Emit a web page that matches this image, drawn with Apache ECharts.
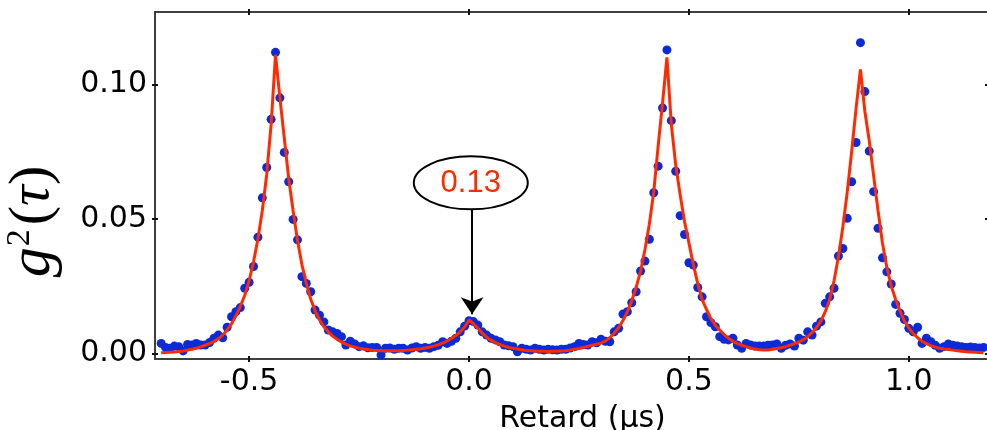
<!DOCTYPE html>
<html><head><meta charset="utf-8">
<script src="https://cdn.jsdelivr.net/npm/echarts@6/dist/echarts.min.js"></script>
<style>html,body{margin:0;padding:0;background:#fff}#c{width:987px;height:430px}</style>
</head><body><div id="c"></div>
<script>
const delays = [
-0.70,-0.69,-0.68,-0.67,-0.66,-0.65,-0.64,-0.63,-0.62,-0.61,
-0.60,-0.59,-0.58,-0.57,-0.56,-0.55,-0.54,-0.53,-0.52,-0.51,
-0.50,-0.49,-0.48,-0.47,-0.46,-0.45,-0.44,-0.43,-0.42,-0.41,
-0.40,-0.39,-0.38,-0.37,-0.36,-0.35,-0.34,-0.33,-0.32,-0.31,
-0.30,-0.29,-0.28,-0.27,-0.26,-0.25,-0.24,-0.23,-0.22,-0.21,
-0.20,-0.19,-0.18,-0.17,-0.16,-0.15,-0.14,-0.13,-0.12,-0.11,
-0.10,-0.09,-0.08,-0.07,-0.06,-0.05,-0.04,-0.03,-0.02,-0.01,
0.00,0.01,0.02,0.03,0.04,0.05,0.06,0.07,0.08,0.09,
0.10,0.11,0.12,0.13,0.14,0.15,0.16,0.17,0.18,0.19,
0.20,0.21,0.22,0.23,0.24,0.25,0.26,0.27,0.28,0.29,
0.30,0.31,0.32,0.33,0.34,0.35,0.36,0.37,0.38,0.39,
0.40,0.41,0.42,0.43,0.44,0.45,0.46,0.47,0.48,0.49,
0.50,0.51,0.52,0.53,0.54,0.55,0.56,0.57,0.58,0.59,
0.60,0.61,0.62,0.63,0.64,0.65,0.66,0.67,0.68,0.69,
0.70,0.71,0.72,0.73,0.74,0.75,0.76,0.77,0.78,0.79,
0.80,0.81,0.82,0.83,0.84,0.85,0.86,0.87,0.88,0.89,
0.90,0.91,0.92,0.93,0.94,0.95,0.96,0.97,0.98,0.99,
1.00,1.01,1.02,1.03,1.04,1.05,1.06,1.07,1.08,1.09,
1.10,1.11,1.12,1.13,1.14,1.15,1.16,1.17
];
const g2Measured = [
0.0037,0.0022,0.0019,0.0027,0.0025,0.0009,0.0033,0.0031,0.0037,0.0031,
0.0031,0.0040,0.0056,0.0068,0.0058,0.0097,0.0136,0.0155,0.0170,0.0242,
0.0264,0.0323,0.0432,0.0578,0.0691,0.0870,0.1119,0.0950,0.0747,0.0638,
0.0498,0.0422,0.0285,0.0260,0.0229,0.0161,0.0142,0.0117,0.0087,0.0080,
0.0074,0.0062,0.0031,0.0045,0.0035,0.0025,0.0028,0.0021,0.0022,0.0022,
-0.0006,0.0019,0.0020,0.0015,0.0019,0.0019,0.0012,0.0020,0.0025,0.0019,
0.0022,0.0019,0.0025,0.0030,0.0043,0.0037,0.0045,0.0056,0.0080,0.0101,
0.0121,0.0118,0.0105,0.0080,0.0068,0.0056,0.0050,0.0043,0.0031,0.0028,
0.0025,0.0006,0.0019,0.0015,0.0012,0.0019,0.0015,0.0012,0.0015,0.0013,
0.0012,0.0015,0.0015,0.0020,0.0025,0.0037,0.0033,0.0031,0.0043,0.0039,
0.0052,0.0045,0.0043,0.0080,0.0093,0.0146,0.0155,0.0188,0.0229,0.0306,
0.0343,0.0424,0.0597,0.0696,0.0912,0.1128,0.0865,0.0677,0.0512,0.0442,
0.0337,0.0328,0.0245,0.0210,0.0136,0.0114,0.0099,0.0062,0.0052,0.0050,
0.0056,0.0031,0.0019,0.0037,0.0031,0.0027,0.0027,0.0027,0.0030,0.0031,
0.0035,0.0019,0.0030,0.0035,0.0027,0.0056,0.0049,0.0080,0.0068,0.0101,
0.0117,0.0186,0.0210,0.0242,0.0362,0.0390,0.0502,0.0638,0.0784,0.1155,
0.0973,0.0752,0.0601,0.0465,0.0355,0.0303,0.0258,0.0182,0.0149,0.0126,
0.0093,0.0080,0.0097,0.0037,0.0056,0.0043,0.0030,0.0019,0.0025,0.0035,
0.0030,0.0027,0.0025,0.0022,0.0024,0.0022,0.0020,0.0022
];
const g2Fit = [
0.0002,0.0003,0.0004,0.0005,0.0007,0.0009,0.0012,0.0015,0.0019,0.0024,
0.0030,0.0036,0.0044,0.0054,0.0068,0.0087,0.0110,0.0140,0.0175,0.0215,
0.0270,0.0340,0.0425,0.0530,0.0665,0.0850,0.1110,0.0950,0.0800,0.0650,
0.0530,0.0420,0.0330,0.0260,0.0202,0.0158,0.0125,0.0099,0.0080,0.0064,
0.0052,0.0042,0.0034,0.0028,0.0023,0.0019,0.0016,0.0014,0.0012,0.0011,
0.0010,0.0010,0.0010,0.0010,0.0010,0.0011,0.0012,0.0013,0.0015,0.0017,
0.0020,0.0023,0.0027,0.0032,0.0038,0.0046,0.0055,0.0066,0.0080,0.0098,
0.0124,0.0110,0.0094,0.0075,0.0060,0.0049,0.0040,0.0033,0.0027,0.0022,
0.0019,0.0016,0.0013,0.0011,0.0010,0.0009,0.0008,0.0008,0.0007,0.0008,
0.0008,0.0009,0.0010,0.0012,0.0015,0.0018,0.0022,0.0026,0.0030,0.0034,
0.0038,0.0046,0.0058,0.0075,0.0095,0.0122,0.0155,0.0195,0.0245,0.0305,
0.0385,0.0480,0.0600,0.0770,0.0930,0.1100,0.0850,0.0700,0.0590,0.0490,
0.0410,0.0330,0.0260,0.0200,0.0163,0.0128,0.0104,0.0087,0.0070,0.0056,
0.0045,0.0036,0.0030,0.0025,0.0020,0.0016,0.0013,0.0012,0.0012,0.0015,
0.0018,0.0021,0.0025,0.0030,0.0036,0.0042,0.0051,0.0062,0.0078,0.0095,
0.0120,0.0155,0.0200,0.0270,0.0360,0.0470,0.0600,0.0750,0.0910,0.1056,
0.0900,0.0790,0.0660,0.0530,0.0410,0.0320,0.0250,0.0200,0.0158,0.0120,
0.0095,0.0073,0.0058,0.0045,0.0036,0.0029,0.0023,0.0019,0.0016,0.0014,
0.0012,0.0010,0.0008,0.0006,0.0005,0.0004,0.0003,0.0002
];
const xTickValues = [-0.5, 0, 0.5, 1.0];
const xTickLabels = ['-0.5', '0.0', '0.5', '1.0'];
const yTickValues = [0, 0.05, 0.10];
const yTickLabels = ['0.00', '0.05', '0.10'];
const xTitle = 'Retard (\u03bcs)';
const calloutText = '0.13';
const calloutCenter = [0.004, 0.0634];
const arrowFrom = [0.007, 0.0535];
const arrowTo = [0.007, 0.0145];

const X_MIN = -0.714, X_MAX = 1.18, Y_MIN = -0.0021, Y_MAX = 0.1269;
const AX = '#333';
const lab = (vals, labs) => v => { const i = vals.findIndex(t => Math.abs(t - v) < 1e-9); return i >= 0 ? labs[i] : ''; };

function xAx(pos, inside, main) {
  return {
    type: 'value', position: pos, min: X_MIN, max: X_MAX,
    axisLine: { show: true, onZero: false, lineStyle: { color: AX, width: 1.5 } },
    axisTick: { show: true, inside: inside, length: 3, customValues: xTickValues, lineStyle: { color: '#111', width: 2 } },
    axisLabel: main ? { show: true, customValues: xTickValues, formatter: lab(xTickValues, xTickLabels), fontSize: 30, fontFamily: 'DejaVu Sans', color: '#000', margin: 8 } : { show: false },
    splitLine: { show: false },
    name: main ? xTitle : '', nameLocation: 'middle', nameGap: 45,
    nameTextStyle: { fontSize: 30, fontFamily: 'DejaVu Sans', color: '#000', padding: [0, 0, 0, 22] }
  };
}
function yAx(pos, inside, main) {
  return {
    type: 'value', position: pos, min: Y_MIN, max: Y_MAX,
    axisLine: { show: true, onZero: false, lineStyle: { color: AX, width: 1.5 } },
    axisTick: { show: true, inside: inside, length: 3, customValues: yTickValues, lineStyle: { color: '#111', width: 2 } },
    axisLabel: main ? { show: true, customValues: yTickValues, formatter: lab(yTickValues, yTickLabels), fontSize: 30, fontFamily: 'DejaVu Sans', color: '#000', margin: 8 } : { show: false },
    splitLine: { show: false },
    name: main ? '{g|g}{s|2}{p|(}{t|\u03c4}{p|)}' : '', nameLocation: 'middle', nameGap: 92,
    nameTextStyle: {
      padding: [0, 72, 0, 0],
      rich: {
        g: { fontFamily: 'Liberation Serif', fontStyle: 'italic', fontSize: 60, color: '#000' },
        s: { fontFamily: 'Liberation Serif', fontSize: 34, verticalAlign: 'top', color: '#000', padding: [0, 4, 0, 1] },
        p: { fontFamily: 'Liberation Serif', fontSize: 58, color: '#000' },
        t: { fontFamily: 'Liberation Serif', fontStyle: 'italic', fontSize: 58, color: '#000' }
      }
    }
  };
}

const chart = echarts.init(document.getElementById('c'), null, { renderer: 'canvas' });
chart.setOption({
  animation: false,
  backgroundColor: '#fff',
  grid: { left: 155, top: 12, width: 833, height: 347, containLabel: false, outerBoundsMode: 'none' },
  xAxis: [xAx('bottom', false, true), xAx('bottom', true, false), xAx('top', false, false), xAx('top', true, false)],
  yAxis: [yAx('left', false, true), yAx('left', true, false), yAx('right', true, false)],
  series: [
    {
      type: 'scatter', xAxisIndex: 0, yAxisIndex: 0,
      data: delays.map((d, i) => [d, g2Measured[i]]),
      symbolSize: 9, itemStyle: { color: '#0b2bd9', opacity: 1 }, z: 2
    },
    {
      type: 'line', xAxisIndex: 0, yAxisIndex: 0,
      data: delays.map((d, i) => [d, g2Fit[i]]),
      showSymbol: false, symbol: 'none',
      lineStyle: { color: '#ff2a00', width: 3 }, z: 3,
      markLine: {
        silent: true, symbol: ['none', 'arrow'], symbolSize: 17,
        lineStyle: { color: '#000', width: 2, type: 'solid' },
        label: { show: false },
        data: [[{ coord: arrowFrom }, { coord: arrowTo }]]
      }
    }
  ]
});
const c = chart.convertToPixel({ gridIndex: 0 }, calloutCenter);
chart.setOption({
  graphic: [
    { type: 'ellipse', shape: { cx: c[0], cy: c[1], rx: 57, ry: 26.5 }, style: { fill: '#fff', stroke: '#000', lineWidth: 2 }, z: 10 },
    { type: 'text', x: c[0], y: c[1] + 1, style: { text: calloutText, fill: '#ff2a00', font: '31px "Liberation Sans"', align: 'center', verticalAlign: 'middle' }, z: 11 }
  ]
});
</script></body></html>
